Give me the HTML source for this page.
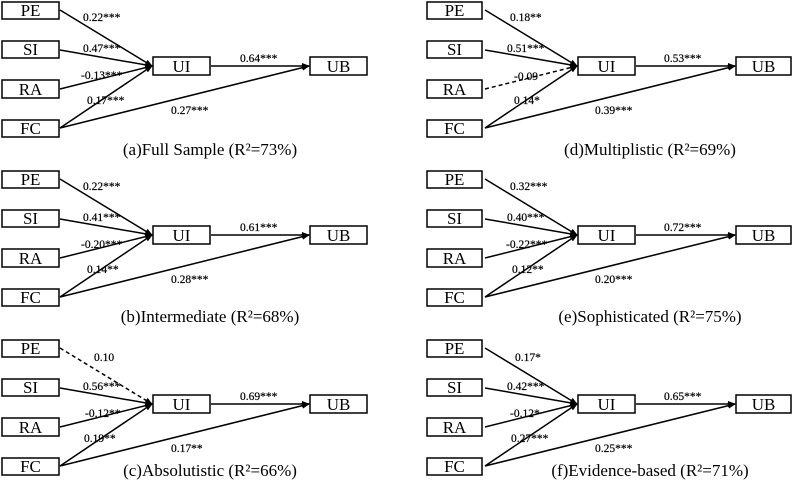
<!DOCTYPE html>
<html><head><meta charset="utf-8"><style>
html,body{margin:0;padding:0;background:#fff;}
svg{display:block;}
text{font-family:"Liberation Serif",serif;fill:#000;}
.b{font-size:17px;}
.l{font-size:11.5px;stroke:#000;stroke-width:0.2;}
.c{font-size:17px;}
rect{fill:#fff;stroke:#000;stroke-width:1.5;}
line{stroke:#000;stroke-width:1.5;}
.d{stroke-dasharray:4,3;}
</style></head><body>
<svg width="794" height="486" viewBox="0 0 794 486" xmlns="http://www.w3.org/2000/svg">
<defs>
<marker id="a" markerWidth="8" markerHeight="8" refX="7" refY="4" orient="auto" markerUnits="userSpaceOnUse">
<path d="M0,1 L8,4 L0,7 z" fill="#000"/></marker>
</defs>
<!-- Panel a -->
<g transform="translate(0,0)">
<line x1="60" y1="10" x2="152" y2="66" marker-end="url(#a)"/>
<line x1="60" y1="50" x2="152" y2="66" marker-end="url(#a)"/>
<line x1="60" y1="89" x2="152" y2="66" marker-end="url(#a)"/>
<line x1="60" y1="128" x2="152" y2="66" marker-end="url(#a)"/>
<line x1="211" y1="66" x2="309" y2="66" marker-end="url(#a)"/>
<line x1="60" y1="128" x2="309" y2="66" marker-end="url(#a)"/>
<rect x="2" y="2" width="57" height="17"/><text class="b" x="30.5" y="16" text-anchor="middle">PE</text>
<rect x="2" y="41" width="57" height="17"/><text class="b" x="30.5" y="55" text-anchor="middle">SI</text>
<rect x="2" y="80" width="57" height="18"/><text class="b" x="30.5" y="95" text-anchor="middle">RA</text>
<rect x="2" y="120" width="57" height="17"/><text class="b" x="30.5" y="134" text-anchor="middle">FC</text>
<rect x="153" y="57" width="57" height="18"/><text class="b" x="181.5" y="72" text-anchor="middle">UI</text>
<rect x="310" y="57" width="57" height="18"/><text class="b" x="338.5" y="72" text-anchor="middle">UB</text>
<text class="l" x="83" y="21">0.22***</text>
<text class="l" x="83" y="52">0.47***</text>
<text class="l" x="81" y="79">-0.13***</text>
<text class="l" x="87" y="104">0.17***</text>
<text class="l" x="240" y="62">0.64***</text>
<text class="l" x="171" y="114">0.27***</text>
<text class="c" x="210" y="155" text-anchor="middle">(a)Full Sample (R²=73%)</text>
</g>
<!-- Panel b -->
<g transform="translate(0,169)">
<line x1="60" y1="10" x2="152" y2="66" marker-end="url(#a)"/>
<line x1="60" y1="50" x2="152" y2="66" marker-end="url(#a)"/>
<line x1="60" y1="89" x2="152" y2="66" marker-end="url(#a)"/>
<line x1="60" y1="128" x2="152" y2="66" marker-end="url(#a)"/>
<line x1="211" y1="66" x2="309" y2="66" marker-end="url(#a)"/>
<line x1="60" y1="128" x2="309" y2="66" marker-end="url(#a)"/>
<rect x="2" y="2" width="57" height="17"/><text class="b" x="30.5" y="16" text-anchor="middle">PE</text>
<rect x="2" y="41" width="57" height="17"/><text class="b" x="30.5" y="55" text-anchor="middle">SI</text>
<rect x="2" y="80" width="57" height="18"/><text class="b" x="30.5" y="95" text-anchor="middle">RA</text>
<rect x="2" y="120" width="57" height="17"/><text class="b" x="30.5" y="134" text-anchor="middle">FC</text>
<rect x="153" y="57" width="57" height="18"/><text class="b" x="181.5" y="72" text-anchor="middle">UI</text>
<rect x="310" y="57" width="57" height="18"/><text class="b" x="338.5" y="72" text-anchor="middle">UB</text>
<text class="l" x="83" y="21">0.22***</text>
<text class="l" x="83" y="52">0.41***</text>
<text class="l" x="81" y="79">-0.20***</text>
<text class="l" x="87" y="104">0.14**</text>
<text class="l" x="240" y="62">0.61***</text>
<text class="l" x="171" y="114">0.28***</text>
<text class="c" x="210" y="153" text-anchor="middle">(b)Intermediate (R²=68%)</text>
</g>
<!-- Panel c -->
<g transform="translate(0,338)">
<line class="d" x1="60" y1="10" x2="152" y2="66" marker-end="url(#a)"/>
<line x1="60" y1="50" x2="152" y2="66" marker-end="url(#a)"/>
<line x1="60" y1="89" x2="152" y2="66" marker-end="url(#a)"/>
<line x1="60" y1="128" x2="152" y2="66" marker-end="url(#a)"/>
<line x1="211" y1="66" x2="309" y2="66" marker-end="url(#a)"/>
<line x1="60" y1="128" x2="309" y2="66" marker-end="url(#a)"/>
<rect x="2" y="2" width="57" height="17"/><text class="b" x="30.5" y="16" text-anchor="middle">PE</text>
<rect x="2" y="41" width="57" height="17"/><text class="b" x="30.5" y="55" text-anchor="middle">SI</text>
<rect x="2" y="80" width="57" height="18"/><text class="b" x="30.5" y="95" text-anchor="middle">RA</text>
<rect x="2" y="120" width="57" height="17"/><text class="b" x="30.5" y="134" text-anchor="middle">FC</text>
<rect x="153" y="57" width="57" height="18"/><text class="b" x="181.5" y="72" text-anchor="middle">UI</text>
<rect x="310" y="57" width="57" height="18"/><text class="b" x="338.5" y="72" text-anchor="middle">UB</text>
<text class="l" x="94" y="23">0.10</text>
<text class="l" x="83" y="52">0.56***</text>
<text class="l" x="85" y="79">-0.12**</text>
<text class="l" x="84" y="104">0.19**</text>
<text class="l" x="240" y="62">0.69***</text>
<text class="l" x="171" y="114">0.17**</text>
<text class="c" x="210" y="138" text-anchor="middle">(c)Absolutistic (R²=66%)</text>
</g>
<!-- Panel d -->
<g transform="translate(425,0)">
<line x1="60" y1="10" x2="152" y2="66" marker-end="url(#a)"/>
<line x1="60" y1="50" x2="152" y2="66" marker-end="url(#a)"/>
<line class="d" x1="60" y1="89" x2="152" y2="66" marker-end="url(#a)"/>
<line x1="60" y1="128" x2="152" y2="66" marker-end="url(#a)"/>
<line x1="211" y1="66" x2="310" y2="66" marker-end="url(#a)"/>
<line x1="60" y1="128" x2="310" y2="66" marker-end="url(#a)"/>
<rect x="2" y="2" width="55" height="17"/><text class="b" x="29.5" y="16" text-anchor="middle">PE</text>
<rect x="2" y="41" width="55" height="17"/><text class="b" x="29.5" y="55" text-anchor="middle">SI</text>
<rect x="2" y="80" width="55" height="18"/><text class="b" x="29.5" y="95" text-anchor="middle">RA</text>
<rect x="2" y="120" width="55" height="17"/><text class="b" x="29.5" y="134" text-anchor="middle">FC</text>
<rect x="153" y="57" width="57" height="18"/><text class="b" x="181.5" y="72" text-anchor="middle">UI</text>
<rect x="311" y="57" width="55" height="18"/><text class="b" x="338.5" y="72" text-anchor="middle">UB</text>
<text class="l" x="85" y="21">0.18**</text>
<text class="l" x="82" y="52">0.51***</text>
<text class="l" x="89" y="80">-0.09</text>
<text class="l" x="89" y="104">0.14*</text>
<text class="l" x="239" y="62">0.53***</text>
<text class="l" x="170" y="114">0.39***</text>
<text class="c" x="225" y="155" text-anchor="middle">(d)Multiplistic (R²=69%)</text>
</g>
<!-- Panel e -->
<g transform="translate(425,169)">
<line x1="60" y1="10" x2="152" y2="66" marker-end="url(#a)"/>
<line x1="60" y1="50" x2="152" y2="66" marker-end="url(#a)"/>
<line x1="60" y1="89" x2="152" y2="66" marker-end="url(#a)"/>
<line x1="60" y1="128" x2="152" y2="66" marker-end="url(#a)"/>
<line x1="211" y1="66" x2="310" y2="66" marker-end="url(#a)"/>
<line x1="60" y1="128" x2="310" y2="66" marker-end="url(#a)"/>
<rect x="2" y="2" width="55" height="17"/><text class="b" x="29.5" y="16" text-anchor="middle">PE</text>
<rect x="2" y="41" width="55" height="17"/><text class="b" x="29.5" y="55" text-anchor="middle">SI</text>
<rect x="2" y="80" width="55" height="18"/><text class="b" x="29.5" y="95" text-anchor="middle">RA</text>
<rect x="2" y="120" width="55" height="17"/><text class="b" x="29.5" y="134" text-anchor="middle">FC</text>
<rect x="153" y="57" width="57" height="18"/><text class="b" x="181.5" y="72" text-anchor="middle">UI</text>
<rect x="311" y="57" width="55" height="18"/><text class="b" x="338.5" y="72" text-anchor="middle">UB</text>
<text class="l" x="85" y="21">0.32***</text>
<text class="l" x="82" y="52">0.40***</text>
<text class="l" x="81" y="79">-0.22***</text>
<text class="l" x="87" y="104">0.12**</text>
<text class="l" x="239" y="62">0.72***</text>
<text class="l" x="170" y="114">0.20***</text>
<text class="c" x="225" y="153" text-anchor="middle">(e)Sophisticated (R²=75%)</text>
</g>
<!-- Panel f -->
<g transform="translate(425,338)">
<line x1="60" y1="10" x2="152" y2="66" marker-end="url(#a)"/>
<line x1="60" y1="50" x2="152" y2="66" marker-end="url(#a)"/>
<line x1="60" y1="89" x2="152" y2="66" marker-end="url(#a)"/>
<line x1="60" y1="128" x2="152" y2="66" marker-end="url(#a)"/>
<line x1="211" y1="66" x2="310" y2="66" marker-end="url(#a)"/>
<line x1="60" y1="128" x2="310" y2="66" marker-end="url(#a)"/>
<rect x="2" y="2" width="55" height="17"/><text class="b" x="29.5" y="16" text-anchor="middle">PE</text>
<rect x="2" y="41" width="55" height="17"/><text class="b" x="29.5" y="55" text-anchor="middle">SI</text>
<rect x="2" y="80" width="55" height="18"/><text class="b" x="29.5" y="95" text-anchor="middle">RA</text>
<rect x="2" y="120" width="55" height="17"/><text class="b" x="29.5" y="134" text-anchor="middle">FC</text>
<rect x="153" y="57" width="57" height="18"/><text class="b" x="181.5" y="72" text-anchor="middle">UI</text>
<rect x="311" y="57" width="55" height="18"/><text class="b" x="338.5" y="72" text-anchor="middle">UB</text>
<text class="l" x="90" y="23">0.17*</text>
<text class="l" x="82" y="52">0.42***</text>
<text class="l" x="85" y="79">-0.12*</text>
<text class="l" x="86" y="104">0.27***</text>
<text class="l" x="239" y="62">0.65***</text>
<text class="l" x="170" y="114">0.25***</text>
<text class="c" x="225" y="138" text-anchor="middle">(f)Evidence-based (R²=71%)</text>
</g>
</svg>
</body></html>
